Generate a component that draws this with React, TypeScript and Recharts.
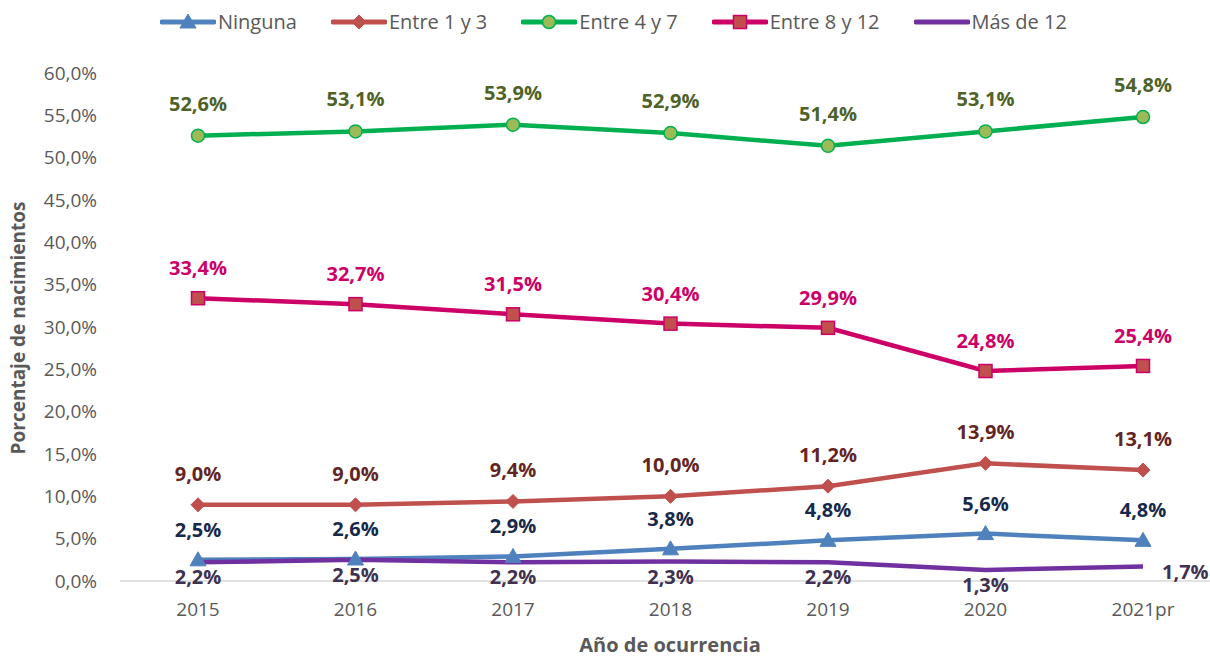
import React from 'react';
import { LineChart, Line, XAxis, YAxis, LabelList, Label } from 'recharts';

// Años de ocurrencia
const years = ['2015', '2016', '2017', '2018', '2019', '2020', '2021pr'];

// Porcentaje de nacimientos por número de consultas prenatales
const ninguna = [2.5, 2.6, 2.9, 3.8, 4.8, 5.6, 4.8];
const entre1y3 = [9.0, 9.0, 9.4, 10.0, 11.2, 13.9, 13.1];
const entre4y7 = [52.6, 53.1, 53.9, 52.9, 51.4, 53.1, 54.8];
const entre8y12 = [33.4, 32.7, 31.5, 30.4, 29.9, 24.8, 25.4];
const masDe12 = [2.2, 2.5, 2.2, 2.3, 2.2, 1.3, 1.7];

const yTicks = [0, 5, 10, 15, 20, 25, 30, 35, 40, 45, 50, 55, 60];

const data = years.map((year, i) => ({
  year,
  ninguna: ninguna[i],
  entre1y3: entre1y3[i],
  entre4y7: entre4y7[i],
  entre8y12: entre8y12[i],
  masDe12: masDe12[i],
}));

const FONT = '"Open Sans", "Noto Sans", sans-serif';
const fmt = (v: number) => v.toFixed(1).replace('.', ',') + '%';

type MarkerKind = 'triangle' | 'diamond' | 'circle' | 'square' | 'none';

const drawMarker = (kind: MarkerKind, cx: number, cy: number, color: string, fill: string, key?: string) => {
  if (kind === 'triangle') {
    return <path key={key} d={`M${cx},${cy - 8} L${cx + 8},${cy + 6} L${cx - 8},${cy + 6} Z`} fill={fill} stroke={color} strokeWidth={1} />;
  }
  if (kind === 'diamond') {
    return <path key={key} d={`M${cx},${cy - 7} L${cx + 7},${cy} L${cx},${cy + 7} L${cx - 7},${cy} Z`} fill={fill} stroke={color} strokeWidth={1} />;
  }
  if (kind === 'circle') {
    return <circle key={key} cx={cx} cy={cy} r={6.5} fill={fill} stroke={color} strokeWidth={1.5} />;
  }
  if (kind === 'square') {
    return <rect key={key} x={cx - 6.5} y={cy - 6.5} width={13} height={13} fill={fill} stroke={color} strokeWidth={1.5} />;
  }
  return <g key={key} />;
};

const series = [
  { key: 'ninguna', name: 'Ninguna', color: '#4f81bd', fill: '#4f81bd', marker: 'triangle' as MarkerKind, labelColor: '#17294a', dy: -23 },
  { key: 'entre1y3', name: 'Entre 1 y 3', color: '#c0504d', fill: '#c0504d', marker: 'diamond' as MarkerKind, labelColor: '#632523', dy: -24 },
  { key: 'entre4y7', name: 'Entre 4 y 7', color: '#00b050', fill: '#9bbb59', marker: 'circle' as MarkerKind, labelColor: '#4f6228', dy: -25 },
  { key: 'entre8y12', name: 'Entre 8 y 12', color: '#cc0066', fill: '#c0504d', marker: 'square' as MarkerKind, labelColor: '#cc0066', dy: -23 },
  { key: 'masDe12', name: 'Más de 12', color: '#7030a0', fill: '#7030a0', marker: 'none' as MarkerKind, labelColor: '#403151', dy: 22 },
];

const LegendBar = () => (
  <div
    style={{
      position: 'absolute',
      top: 8,
      left: 160,
      display: 'flex',
      alignItems: 'center',
      fontFamily: FONT,
      fontSize: 20,
      color: '#595959',
      whiteSpace: 'nowrap',
    }}
  >
    {series.map((s) => (
      <div key={s.key} style={{ display: 'flex', alignItems: 'center', marginRight: 34 }}>
        <svg width={56} height={24}>
          <line x1={2} y1={12} x2={54} y2={12} stroke={s.color} strokeWidth={5} strokeLinecap="round" />
          {drawMarker(s.marker, 28, 12, s.color, s.fill)}
        </svg>
        <span style={{ marginLeft: 2 }}>{s.name}</span>
      </div>
    ))}
  </div>
);

export default function App() {
  return (
    <div style={{ position: 'absolute', left: 0, top: 0, width: 1210, height: 658, background: '#fff' }}>
      <LegendBar />
      <LineChart width={1210} height={658} data={data} margin={{ top: 73, right: 0, bottom: 0, left: 0 }}>
        <XAxis
          dataKey="year"
          height={77}
          padding={{ left: 78, right: 67 }}
          tickLine={false}
          tickSize={0}
          tickMargin={22}
          axisLine={{ stroke: '#d9d9d9', strokeWidth: 1.5 }}
          tick={{ fill: '#595959', fontSize: 19, fontFamily: FONT }}
        >
          <Label
            content={() => (
              <text x={670} y={652} textAnchor="middle" fill="#595959" fontSize={20} fontWeight={700} fontFamily={FONT}>
                Año de ocurrencia
              </text>
            )}
          />
        </XAxis>
        <YAxis
          width={120}
          domain={[0, 60]}
          ticks={yTicks}
          interval={0}
          tickFormatter={(v: number) => fmt(v)}
          tickLine={false}
          tickSize={0}
          tickMargin={23}
          axisLine={false}
          tick={{ fill: '#595959', fontSize: 19, fontFamily: FONT }}
        >
          <Label
            content={() => (
              <text
                x={0}
                y={0}
                transform="translate(25, 328) rotate(-90)"
                textAnchor="middle"
                fill="#595959"
                fontSize={19}
                fontWeight={700}
                fontFamily={FONT}
              >
                Porcentaje de nacimientos
              </text>
            )}
          />
        </YAxis>
        {series.map((s) => (
          <Line
            key={s.key}
            dataKey={s.key}
            name={s.name}
            type="linear"
            stroke={s.color}
            strokeWidth={4.5}
            isAnimationActive={false}
            dot={(p: any) => drawMarker(s.marker, p.cx, p.cy, s.color, s.fill, `${s.key}-dot-${p.index}`)}
            activeDot={false}
          >
            <LabelList
              dataKey={s.key}
              content={(p: any) => {
                const last = s.key === 'masDe12' && p.index === years.length - 1;
                return (
                  <text
                    x={last ? p.x + 19 : p.x}
                    y={last ? p.y + 12 : p.y + s.dy}
                    textAnchor={last ? 'start' : 'middle'}
                    fill={s.labelColor}
                    fontSize={20}
                    fontWeight={700}
                    fontFamily={FONT}
                  >
                    {fmt(Number(p.value))}
                  </text>
                );
              }}
            />
          </Line>
        ))}
      </LineChart>
    </div>
  );
}
